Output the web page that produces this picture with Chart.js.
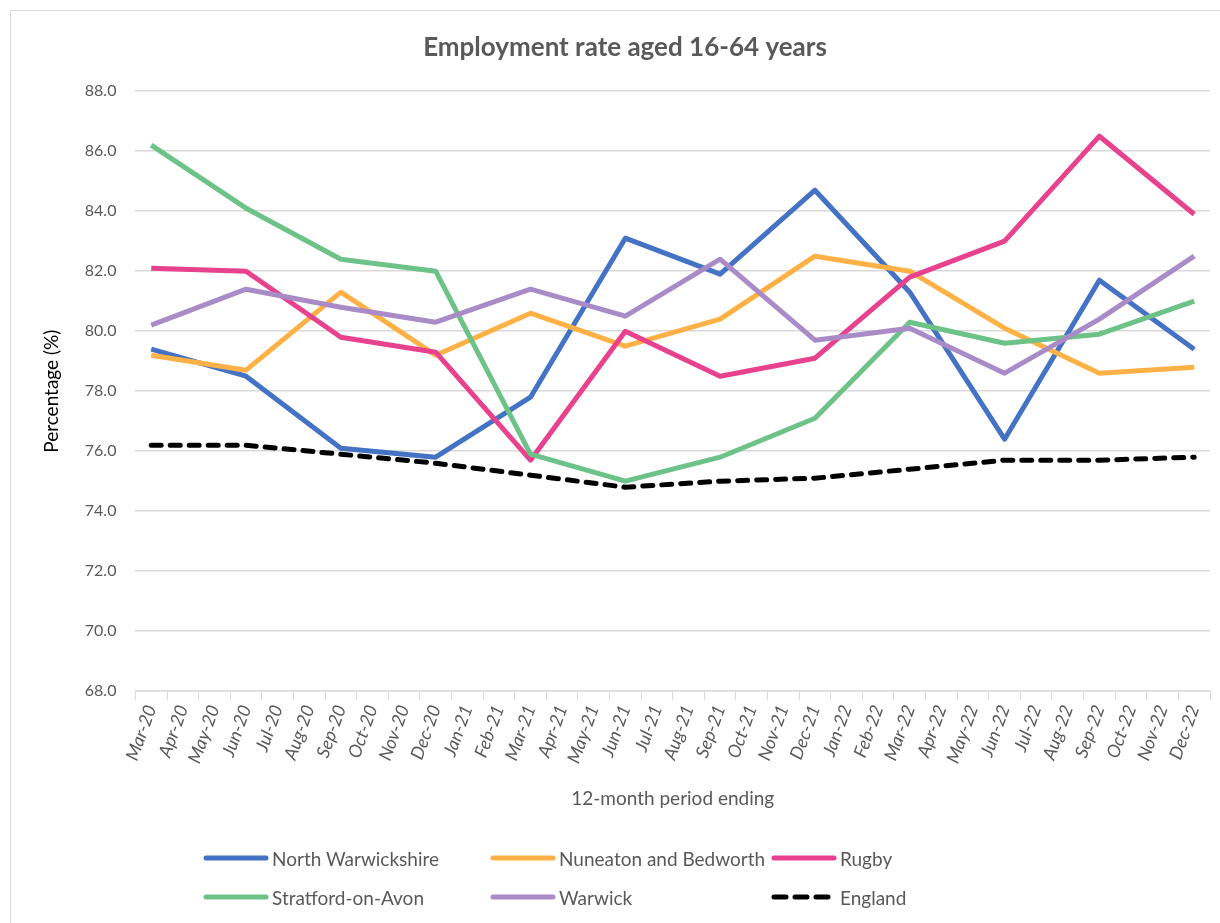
<!DOCTYPE html>
<html>
<head>
<meta charset="utf-8">
<script src="https://cdn.jsdelivr.net/npm/chart.js@4"></script>
<style>
  html, body { margin: 0; padding: 0; background: #fff; }
  #wrap { position: relative; width: 1220px; height: 923px; overflow: hidden; }
  #frame { position: absolute; left: 10px; top: 10px; width: 1300px; height: 1000px; border: 1.5px solid #D9D9D9; box-sizing: border-box; }
  canvas { position: absolute; left: 0; top: 0; }
  #legend { position: absolute; left: 0; top: 0; width: 1220px; height: 923px; pointer-events: none;
            font-family: Lato, 'Open Sans', sans-serif; font-size: 19px; color: #595959; }
  .item { position: absolute; display: flex; align-items: center; height: 26px; }
  .item svg { margin-right: 3px; }
</style>
</head>
<body>
<div id="wrap">
  <div id="frame"></div>
  <canvas id="c" width="1220" height="923"></canvas>
  <div id="legend"></div>
</div>
<script>
// ---- Data ----
const months = ["Mar-20","Apr-20","May-20","Jun-20","Jul-20","Aug-20","Sep-20","Oct-20","Nov-20","Dec-20",
  "Jan-21","Feb-21","Mar-21","Apr-21","May-21","Jun-21","Jul-21","Aug-21","Sep-21","Oct-21","Nov-21","Dec-21",
  "Jan-22","Feb-22","Mar-22","Apr-22","May-22","Jun-22","Jul-22","Aug-22","Sep-22","Oct-22","Nov-22","Dec-22"];
const quarterLabels = ["Mar-20","Jun-20","Sep-20","Dec-20","Mar-21","Jun-21","Sep-21","Dec-21","Mar-22","Jun-22","Sep-22","Dec-22"];
const northWarwickshire = [79.4, 78.5, 76.1, 75.8, 77.8, 83.1, 81.9, 84.7, 81.3, 76.4, 81.7, 79.4];
const nuneatonBedworth  = [79.2, 78.7, 81.3, 79.2, 80.6, 79.5, 80.4, 82.5, 82.0, 80.1, 78.6, 78.8];
const rugby             = [82.1, 82.0, 79.8, 79.3, 75.7, 80.0, 78.5, 79.1, 81.8, 83.0, 86.5, 83.9];
const stratford         = [86.2, 84.1, 82.4, 82.0, 75.9, 75.0, 75.8, 77.1, 80.3, 79.6, 79.9, 81.0];
const warwick           = [80.2, 81.4, 80.8, 80.3, 81.4, 80.5, 82.4, 79.7, 80.1, 78.6, 80.4, 82.5];
const england           = [76.2, 76.2, 75.9, 75.6, 75.2, 74.8, 75.0, 75.1, 75.4, 75.7, 75.7, 75.8];
const seriesNames = ["North Warwickshire","Nuneaton and Bedworth","Rugby","Stratford-on-Avon","Warwick","England"];
const yTicks = [68, 70, 72, 74, 76, 78, 80, 82, 84, 86, 88];

// map quarterly values onto monthly axis
function toMonthly(vals) {
  const out = months.map(() => null);
  quarterLabels.forEach((q, i) => { out[months.indexOf(q)] = vals[i]; });
  return out;
}

const colors = ["#4472C4", "#FFB146", "#E8418D", "#6DC287", "#A98BC7", "#000000"];
const allSeries = [northWarwickshire, nuneatonBedworth, rugby, stratford, warwick, england];

const datasets = allSeries.map((vals, i) => ({
  label: seriesNames[i],
  data: toMonthly(vals),
  borderColor: colors[i],
  backgroundColor: colors[i],
  borderWidth: 5,
  borderDash: i === 5 ? [10, 9] : [],
  borderCapStyle: i === 5 ? 'round' : 'butt',
  borderJoinStyle: 'round',
  pointRadius: 0,
  pointHoverRadius: 0,
  tension: 0,
  spanGaps: true
}));
// draw order: England at back
datasets.forEach((d, i) => d.order = i === 5 ? 10 : 6 - i);

const FONT = "Lato, 'Open Sans', sans-serif";

new Chart(document.getElementById('c'), {
  type: 'line',
  data: { labels: months, datasets },
  options: {
    responsive: false,
    animation: false,
    layout: { padding: { left: 40, right: 10, top: 32, bottom: 113 } },
    plugins: {
      legend: { display: false },
      tooltip: { enabled: false },
      title: {
        display: true,
        text: 'Employment rate aged 16-64 years',
        color: '#595959',
        font: { family: FONT, size: 26, weight: 'bold' },
        padding: { top: 0, bottom: 28 }
      }
    },
    scales: {
      x: {
        offset: true,
        grid: { display: true, drawOnChartArea: false, drawTicks: true, tickLength: 9, color: '#D9D9D9', offset: true },
        border: { display: true, color: '#D9D9D9', width: 1.5 },
        ticks: {
          autoSkip: false, maxRotation: 70, minRotation: 70,
          color: '#595959', padding: 2,
          font: { family: FONT, size: 18, style: 'italic' }
        },
        title: {
          display: true, text: '12-month period ending', color: '#595959',
          font: { family: FONT, size: 19 }, padding: { top: 19, bottom: 0 }
        }
      },
      y: {
        min: 68, max: 88,
        afterBuildTicks: (axis) => { axis.ticks = yTicks.map(v => ({ value: v })); },
        grid: { color: '#D9D9D9', lineWidth: 1.5, drawTicks: false },
        border: { display: false },
        ticks: {
          color: '#595959', padding: 19,
          font: { family: FONT, size: 16 },
          callback: (v) => Number(v).toFixed(1)
        },
        title: {
          display: true, text: 'Percentage (%)', color: '#000000',
          font: { family: FONT, size: 19 }, padding: { top: 0, bottom: 3 }
        }
      }
    }
  }
});

// HTML legend built from the series arrays
const legendPos = [[203, 858], [490, 858], [771, 858], [203, 897], [490, 897], [771, 897]];
const leg = document.getElementById('legend');
seriesNames.forEach((name, i) => {
  const div = document.createElement('div');
  div.className = 'item';
  div.style.left = legendPos[i][0] + 'px';
  div.style.top = (legendPos[i][1] - 13) + 'px';
  const dash = i === 5 ? 'stroke-dasharray="12 9" stroke-linecap="round"' : 'stroke-linecap="round"';
  div.innerHTML = `<svg width="66" height="10"><line x1="3" y1="5" x2="63" y2="5" stroke="${colors[i]}" stroke-width="5" ${dash}/></svg><span>${name}</span>`;
  leg.appendChild(div);
});
</script>
</body>
</html>
